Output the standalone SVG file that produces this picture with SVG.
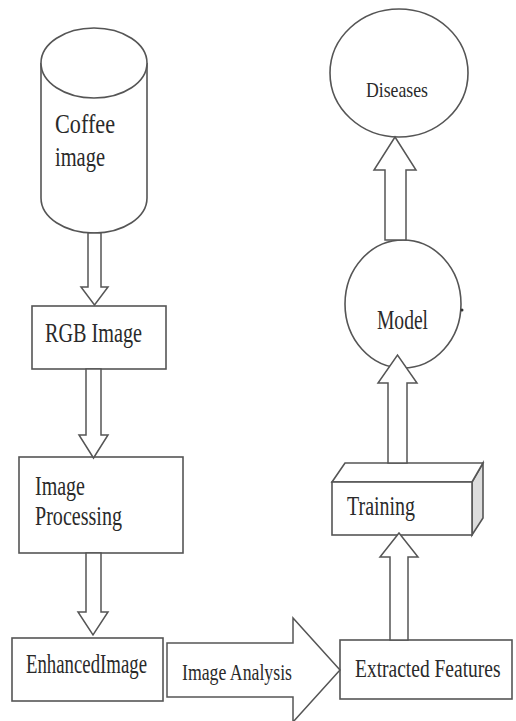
<svg xmlns="http://www.w3.org/2000/svg" width="516" height="721" viewBox="0 0 516 721">
<style>
.s{fill:#fff;stroke:#555;stroke-width:1.6}
.a{fill:#fff;stroke:#555;stroke-width:1.5;stroke-linejoin:miter}
.t{font-family:"Liberation Serif","Times New Roman",serif;font-size:27px;fill:#2a2a2a}
</style>
<rect width="516" height="721" fill="#fff"/>
<g id="coffee-image">
<path class="s" d="M41,63 L41,198 A53,35 0 0 0 147,198 L147,63"/>
<ellipse class="s" cx="94" cy="63" rx="53" ry="35"/>
<text class="t" x="55" y="133" textLength="60" lengthAdjust="spacingAndGlyphs">Coffee</text>
<text class="t" x="55" y="166" textLength="50" lengthAdjust="spacingAndGlyphs">image</text>
</g>
<g id="rgb-image">
<rect class="s" x="32" y="306" width="134" height="63"/>
<text class="t" x="45" y="342" textLength="97" lengthAdjust="spacingAndGlyphs">RGB Image</text>
</g>
<g id="image-processing">
<rect class="s" x="19" y="457" width="164" height="96"/>
<text class="t" x="35" y="495" textLength="50" lengthAdjust="spacingAndGlyphs">Image</text>
<text class="t" x="35" y="525" textLength="87" lengthAdjust="spacingAndGlyphs">Processing</text>
</g>
<g id="enhanced-image">
<rect class="s" x="12" y="638" width="151" height="63"/>
<text class="t" x="26" y="673" textLength="121" lengthAdjust="spacingAndGlyphs">EnhancedImage</text>
</g>
<g id="extracted-features">
<rect class="s" x="340" y="640" width="172" height="59"/>
<text class="t" transform="translate(355,677) scale(0.78,1)" style="font-size:25px">Extracted Features</text>
</g>
<g id="training">
<polygon fill="#ddd" stroke="#555" stroke-width="1.6" points="472,482 483,463 483,518 472,535"/>
<polygon class="s" points="332,482 345,463 483,463 472,482"/>
<rect class="s" x="332" y="482" width="140" height="53"/>
<text class="t" x="347" y="515" textLength="68" lengthAdjust="spacingAndGlyphs">Training</text>
</g>
<g id="model">
<ellipse class="s" cx="403" cy="304" rx="58" ry="64"/>
<circle cx="462" cy="310" r="1.5" fill="#333"/>
<text class="t" x="377" y="329" textLength="51" lengthAdjust="spacingAndGlyphs">Model</text>
</g>
<g id="diseases">
<ellipse class="s" cx="399" cy="73" rx="69" ry="64"/>
<text class="t" x="366" y="97" style="font-size:22px" textLength="62" lengthAdjust="spacingAndGlyphs">Diseases</text>
</g>
<g id="connectors">
<polygon class="a" points="88,233 101,233 101,287 108,287 94.5,305 81,287 88,287"/>
<polygon class="a" points="86,369 101,369 101,435 108,435 93.5,458 79,435 86,435"/>
<polygon class="a" points="86,553 101,553 101,612 108,612 93,635 78,612 86,612"/>
<polygon class="a" points="167,643 293,643 293,618 340,670 293,722 293,697 167,697"/>
<text class="t" x="182" y="680" textLength="110" lengthAdjust="spacingAndGlyphs" style="font-size:24px">Image Analysis</text>
<polygon class="a" points="390,640 408,640 408,557 418,557 399,533 380,557 390,557"/>
<polygon class="a" points="388,463 407,463 407,383 417,383 397.5,355 378,383 388,383"/>
<polygon class="a" points="385,240 406,240 406,170 416,170 395,137 374,170 385,170"/>
</g>
</svg>
